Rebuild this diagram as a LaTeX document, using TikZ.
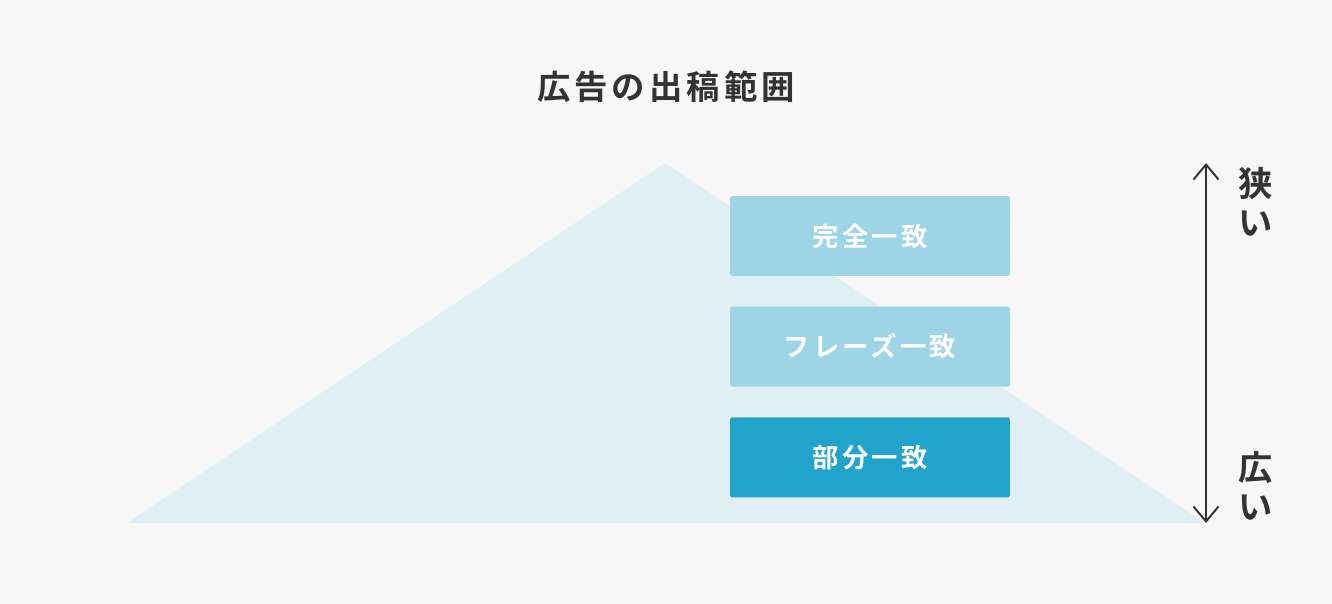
\documentclass[tikz,border=0pt]{standalone}
\usepackage{fontspec}
\newfontfamily\jpfont{Noto Sans CJK JP}[BoldFont={* Bold}]
\usetikzlibrary{arrows.meta,positioning}
\definecolor{bgcol}{HTML}{F7F7F7}
\definecolor{tricol}{HTML}{E0EFF4}
\definecolor{lightbox}{HTML}{9DD4E6}
\definecolor{darkbox}{HTML}{22A3CB}
\definecolor{inkcol}{HTML}{333333}
\tikzstyle{matchbox} = [rectangle, minimum width=5.6cm, minimum height=1.6cm, text centered, rounded corners=1pt, text=white, font=\jpfont\bfseries\fontsize{15}{17}\selectfont\addfontfeatures{LetterSpace=12}]
\tikzstyle{sidelabel} = [text=inkcol, font=\jpfont\bfseries\fontsize{19.5}{22}\selectfont, inner sep=0pt]
\tikzstyle{arrow} = [inkcol, line width=1.1pt, {Straight Barb[length=0.3cm,width=0.5cm]}-{Straight Barb[length=0.3cm,width=0.5cm]}]

\begin{document}
\begin{tikzpicture}[x=0.02cm,y=-0.02cm]
\fill[bgcol] (0,0) rectangle (1332,604);
\useasboundingbox (0,0) rectangle (1332,604);
% triangle
\fill[tricol] (127,523) -- (665,163) -- (1205,523) -- cycle;
% title
\node (title) [text=inkcol, font=\jpfont\bfseries\fontsize{19}{22}\selectfont\addfontfeatures{LetterSpace=12}] at (666,87) {広告の出稿範囲};
% boxes
\node (B1) [matchbox, fill=lightbox] at (870,236) {完全一致};
\node (B2) [matchbox, fill=lightbox, below=0.6cm of B1] {フレーズ一致};
\node (B3) [matchbox, fill=darkbox, below=0.6cm of B2] {部分一致};
% range arrow
\coordinate (top) at (1206,163);
\coordinate (bottom) at (1206,523);
\draw [arrow] (bottom) -- (top);
\node (narrow) [sidelabel, align=center] at (1256,202) {狭\\い};
\node (wide) [sidelabel, align=center] at (1256,486) {広\\い};
\end{tikzpicture}
\end{document}
